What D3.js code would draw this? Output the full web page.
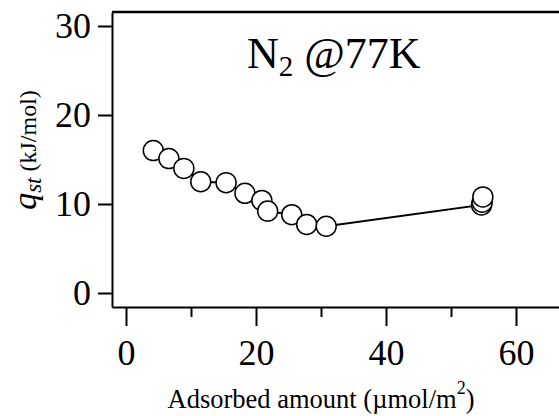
<!DOCTYPE html>
<meta charset="utf-8" />
<head>
  <script src="https://d3js.org/d3.v7.min.js"></script>
  <title>qst N2</title>
  <style>
    body { margin: 0; background: #fff; }
    svg text { font-family: "Liberation Serif", "DejaVu Serif", serif !important; fill: #000; }
    .axis path, .axis line { stroke: #000; stroke-width: 2; }
    .axis text { font-size: 36px; }
  </style>
</head>
<body>
  <svg id="chart" width="559" height="416"></svg>
</body>

<script>
  // adsorbed amount (umol/m2) and isosteric heat (kJ/mol)
  const amount = [4.2, 6.6, 8.9, 11.5, 15.4, 18.3, 20.9, 21.8, 25.5, 27.8, 30.8, 54.7, 54.8, 54.9];
  const qst = [16.0, 15.1, 14.0, 12.5, 12.4, 11.2, 10.4, 9.2, 8.8, 7.7, 7.5, 9.9, 10.2, 10.8];
  const xTicks = [0, 20, 40, 60];
  const xMinor = [10, 30, 50];
  const yTicks = [0, 10, 20, 30];

  const data = amount.map((a, i) => ({ x: a, y: qst[i] }));

  const svg = d3.select("#chart");
  const pLeft = 112, pRight = 559, pTop = 12, pBottom = 307;

  // 0 sits at 126px, 60 at 516px; 0 kJ at 293px, 30 at 26px
  const x = d3.scaleLinear()
    .domain([(pLeft - 126) / 6.5, (pRight - 126) / 6.5])
    .range([pLeft, pRight]);
  const y = d3.scaleLinear()
    .domain([-(pBottom - 293) / 8.9, (293 - pTop) / 8.9])
    .range([pBottom, pTop]);

  // frame top line
  svg.append("line")
    .attr("x1", pLeft).attr("x2", pRight)
    .attr("y1", pTop).attr("y2", pTop)
    .attr("stroke", "#000").attr("stroke-width", 2.5);

  svg.append("g")
    .attr("class", "axis")
    .attr("transform", `translate(0,${pBottom})`)
    .call(d3.axisBottom(x).tickValues(xTicks).tickSize(19).tickSizeOuter(0).tickPadding(13))
    .call((g) => g.selectAll("text").attr("dy", "0.71em"));

  svg.append("g")
    .attr("class", "axis")
    .attr("transform", `translate(0,${pBottom})`)
    .call(d3.axisBottom(x).tickValues(xMinor).tickSize(10).tickSizeOuter(0).tickFormat(""))
    .call((g) => g.select(".domain").remove());

  svg.append("g")
    .attr("class", "axis")
    .attr("transform", `translate(${pLeft},0)`)
    .call(d3.axisLeft(y).tickValues(yTicks).tickSize(14).tickSizeOuter(0).tickPadding(7));

  svg.selectAll(".axis").attr("font-family", null);

  const line = d3.line()
    .x((d) => x(d.x))
    .y((d) => y(d.y));

  svg.append("path")
    .datum(data)
    .attr("fill", "none")
    .attr("stroke", "#000")
    .attr("stroke-width", 2)
    .attr("d", line);

  svg.append("g")
    .selectAll("circle")
    .data(data)
    .enter()
    .append("circle")
    .attr("cx", (d) => x(d.x))
    .attr("cy", (d) => y(d.y))
    .attr("r", 10)
    .attr("fill", "#fff")
    .attr("stroke", "#000")
    .attr("stroke-width", 1.5);

  // annotation
  const note = svg.append("text")
    .attr("x", 247)
    .attr("y", 68)
    .style("font-size", "44px");
  note.append("tspan").text("N");
  note.append("tspan").attr("dy", 8).style("font-size", "29px").text("2");
  note.append("tspan").attr("dy", -8).text(" @77K");

  // y label
  const yl = svg.append("text")
    .attr("transform", "translate(36,150) rotate(-90)")
    .attr("text-anchor", "middle");
  yl.append("tspan").style("font-style", "italic").style("font-size", "34px").text("q");
  yl.append("tspan").attr("dy", 5).style("font-style", "italic").style("font-size", "23px").text("st");
  yl.append("tspan").attr("dy", -5).style("font-size", "24px").text(" (kJ/mol)");

  // x label
  const xl = svg.append("text")
    .attr("x", 321)
    .attr("y", 408)
    .attr("text-anchor", "middle")
    .style("font-size", "26.5px");
  xl.append("tspan").text("Adsorbed amount (\u00b5mol/m");
  xl.append("tspan").attr("dy", -14).style("font-size", "18px").text("2");
  xl.append("tspan").attr("dy", 14).text(")");
</script>
